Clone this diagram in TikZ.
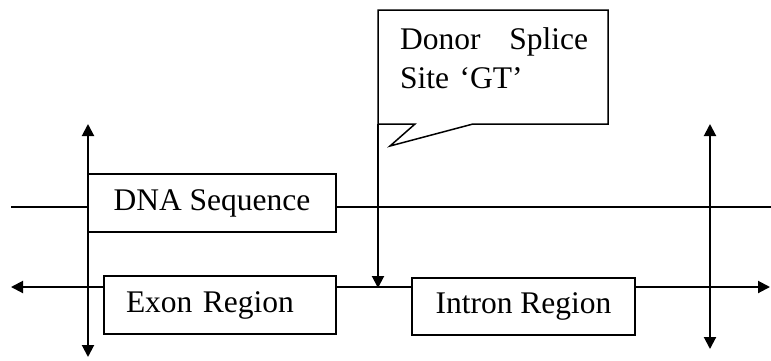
\documentclass[tikz,border=0pt]{standalone}
\usepackage{fontspec}
\setmainfont{Liberation Serif}
\usetikzlibrary{arrows.meta}
\begin{document}
\begin{tikzpicture}[x=1pt,y=-1pt,
  lbl/.style={font=\fontsize{31.5}{39}\selectfont},
  box/.style={draw,line width=1.8pt,fill=white,inner sep=0pt,lbl},
  thinline/.style={line width=1.3pt},
  arr/.style={line width=2pt,-{Triangle[length=12pt,width=12pt]}},
  darr/.style={line width=2pt,{Triangle[length=12pt,width=12pt]}-{Triangle[length=12pt,width=12pt]}}]
\useasboundingbox (0,0) rectangle (771,360);
% coordinates
\coordinate (uL) at (11,207);
\coordinate (uR) at (771,207);
\coordinate (lL) at (11,287);
\coordinate (lR) at (770,287);
\coordinate (vlT) at (88,124);
\coordinate (vlB) at (88,357);
\coordinate (vrT) at (710,124);
\coordinate (vrB) at (710,349);
\coordinate (cTail) at (378,124);
\coordinate (gt) at (378,288);
% lines
\draw[thinline] (uL) -- (uR);
\draw[darr] (lL) -- (lR);
\draw[darr] (vlT) -- (vlB);
\draw[darr] (vrT) -- (vrB);
% boxes
\node[box,minimum width=248pt,minimum height=58pt] (dna) at (212,203) {DNA Sequence};
\node[box,minimum height=58pt,text width=188pt,align=left,inner xsep=22pt] (exon) at (220,305) {Exon Region};
\node[box,minimum width=223pt,minimum height=57pt] (intron) at (523.5,306.5) {Intron Region};
% callout
\draw[line width=1.5pt,fill=white,line join=miter]
  (378,10) -- (608,10) -- (608,124) -- (473,124) -- (390,146) -- (415,124) -- (cTail) -- cycle;
\node[lbl,anchor=base west,text width=188pt,align=left,inner sep=0pt] (donor) at (400,49)
  {Donor\hfill Splice\\Site ‘GT’};
\draw[arr] (cTail) -- (gt);
\end{tikzpicture}
\end{document}
